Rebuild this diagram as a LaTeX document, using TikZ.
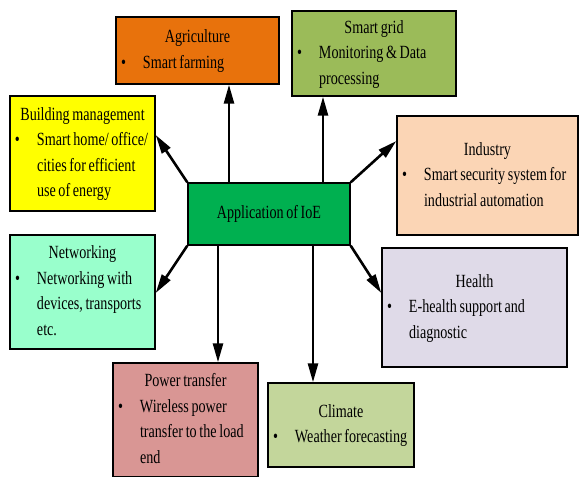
\documentclass[tikz,border=0pt]{standalone}
\usepackage{fontspec}
\setmainfont[FakeStretch=0.76,WordSpace=0.75]{Liberation Serif}
\newcommand{\ioebox}[3]{\begin{tabular}{@{}l@{}}\makebox[#1][c]{#2}\\\makebox[22pt][l]{\textbullet}#3\end{tabular}}
\newcommand{\ioenext}{\\\hspace*{22pt}}
\usepackage{tikz}
\usetikzlibrary{arrows.meta}
\definecolor{agrifill}{HTML}{E8720C}
\definecolor{gridfill}{HTML}{9BBB59}
\definecolor{indfill}{HTML}{FBD5B5}
\definecolor{hubfill}{HTML}{00B050}
\definecolor{bmfill}{HTML}{FFFF00}
\definecolor{netfill}{HTML}{99FFCC}
\definecolor{powfill}{HTML}{D99694}
\definecolor{climfill}{HTML}{C3D69B}
\definecolor{healthfill}{HTML}{DFDAE8}
\tikzset{>={Triangle[length=19pt,width=10pt]},
    appbox/.style={rectangle,draw,line width=1.4pt,inner xsep=5pt,inner ysep=0pt,
        font=\fontsize{18.6}{25.5}\selectfont},
    hub/.style={rectangle,draw,line width=1.4pt,fill=hubfill,
        minimum width=162pt,minimum height=62pt,font=\fontsize{18.6}{25.5}\selectfont},
    link/.style={->,line width=2.6pt}}

\begin{document}
\begin{tikzpicture}[x=1pt,y=-1pt]
\useasboundingbox (0,0) rectangle (579,477);

\node[hub]  (app)    at (269,214)     {Application of IoE};
\node[appbox,fill=agrifill,minimum height=67pt]    (agri)   at (197.5,50.5)
    {\ioebox{153pt}{Agriculture}{Smart farming}};
\node[appbox,fill=gridfill,minimum height=85pt]    (grid)   at (374,53.5)
    {\ioebox{154pt}{Smart grid}{Monitoring \& Data\ioenext processing}};
\node[appbox,fill=bmfill,minimum height=115pt]     (bm)     at (82.5,153.5)
    {\ioebox{135pt}{Building management}{Smart home/ office/\ioenext cities for efficient\ioenext use of energy}};
\node[appbox,fill=indfill,minimum height=119pt]    (ind)    at (487.5,175.5)
    {\ioebox{171pt}{Industry}{Smart security system for\ioenext industrial automation}};
\node[appbox,fill=netfill,minimum height=114pt]    (net)    at (82.5,292)
    {\ioebox{135pt}{Networking}{Networking with\ioenext devices, transports\ioenext etc.}};
\node[appbox,fill=healthfill,minimum height=119pt] (health) at (474.5,307.5)
    {\ioebox{175pt}{Health}{E-health support and\ioenext diagnostic}};
\node[appbox,fill=powfill,minimum height=114pt]    (pow)    at (185.5,420)
    {\ioebox{135pt}{Power transfer}{Wireless power\ioenext transfer to the load\ioenext end}};
\node[appbox,fill=climfill,minimum height=84pt]    (clim)   at (341,425)
    {\ioebox{136pt}{Climate}{Weather forecasting}};

\path
    ([xshift=-40pt]app.north)   edge [link]  ([xshift=31.5pt]agri.south)
    ([xshift=54pt]app.north)    edge [link]  ([xshift=-51pt]grid.south)
    (app.north west)            edge [link]  ([yshift=18.5pt]bm.east)
    (app.north east)            edge [link]  ([yshift=34.5pt]ind.west)
    (app.south west)            edge [link]  ([yshift=-1pt]net.east)
    ([xshift=-51pt]app.south)   edge [link]  ([xshift=32.5pt]pow.north)
    ([xshift=44pt]app.south)    edge [link]  ([xshift=-28pt]clim.north)
    (app.south east)            edge [link]  ([yshift=14.5pt]health.west);
\end{tikzpicture}
\end{document}
